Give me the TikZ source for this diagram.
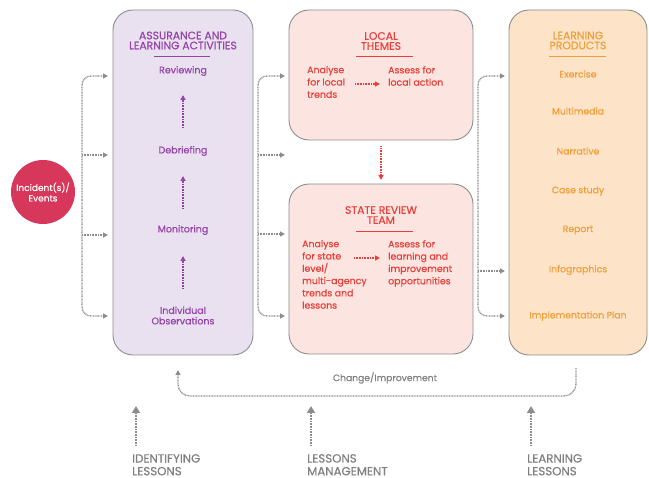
\documentclass[tikz,border=0pt]{standalone}
\usepackage{fontspec}
\setmainfont{Poppins}[FakeBold=0.5]
\usetikzlibrary{arrows.meta}
\definecolor{pbox}{HTML}{E9E0F0}
\definecolor{rbox}{HTML}{FCE5E1}
\definecolor{obox}{HTML}{FDE3C7}
\definecolor{ptext}{HTML}{9544A8}
\definecolor{rtext}{HTML}{E5403A}
\definecolor{otext}{HTML}{EE9F3A}
\definecolor{gline}{HTML}{8C8C8C}
\definecolor{gtext}{HTML}{808080}
\definecolor{incid}{HTML}{D6375A}
\tikzset{
  panel/.style={draw=gline, line width=0.9pt, rounded corners=20pt, minimum width=#1},
  conn/.style={draw=gline, line width=1.3pt, dash pattern=on 0.9pt off 0.7pt, -{Triangle[length=5pt,width=5pt]}},
  pconn/.style={draw=ptext, line width=1.3pt, dash pattern=on 0.9pt off 0.7pt, -{Triangle[length=5pt,width=5pt]}},
  rconn/.style={draw=rtext, line width=1.3pt, dash pattern=on 0.9pt off 0.7pt, -{Triangle[length=5pt,width=5pt]}},
  bigconn/.style={draw=gline, line width=2.6pt, dash pattern=on 0.9pt off 0.7pt, -{Triangle[length=7pt,width=8pt]}},
  ttl/.style={font=\fontsize{10.8}{10}\selectfont, align=center, inner sep=0pt},
  ptxt/.style={text=ptext, font=\fontsize{9.5}{10.5}\selectfont, align=center, inner sep=0pt},
  rtxt/.style={text=rtext, font=\fontsize{9.4}{12.3}\selectfont, align=left, inner sep=0pt},
  otxt/.style={text=otext, font=\fontsize{9.3}{10.5}\selectfont, align=center, inner sep=0pt},
  btxt/.style={text=gtext, font=\fontsize{11.8}{12.8}\selectfont, align=left, inner sep=0pt, anchor=north west},
}
\begin{document}
\begin{tikzpicture}[x=1pt, y=-1pt]
\useasboundingbox (0,0) rectangle (649,478);
% panels
\node[panel=140pt, minimum height=345pt, fill=pbox] (A) at (183,182.5) {};
\node[panel=184pt, minimum height=130pt, fill=rbox] (L) at (381,75) {};
\node[panel=184pt, minimum height=170pt, fill=rbox] (S) at (381,269) {};
\node[panel=138pt, minimum height=345pt, fill=obox] (P) at (578,182.5) {};
% incident
\node[circle, fill=incid, minimum size=64pt, text=white, align=center, inner sep=0pt,
      font=\fontsize{9}{10.5}\selectfont] (I) at (43,192) {Incident(s)/\\Events};
% assurance panel
\node[ttl, text=ptext] (At) at (183,40.5) {ASSURANCE AND\\LEARNING ACTIVITIES};
\draw[ptext, line width=0.8pt] (154,56) -- (210,56);
\node[ptxt] (A1) at (183,71) {Reviewing};
\node[ptxt] (A2) at (183,151) {Debriefing};
\node[ptxt] (A3) at (183,230) {Monitoring};
\node[ptxt] (A4) at (183,315.5) {Individual\\Observations};
\draw[pconn] (183,128) -- (183,95);
\draw[pconn] (183,209) -- (183,176);
\draw[pconn] (183,289) -- (183,256);
% local themes
\node[ttl, text=rtext] (Lt) at (381,41) {LOCAL\\THEMES};
\draw[rtext, line width=0.8pt] (356,56) -- (413,56);
\node[rtxt, anchor=north west] (L1) at (307,66) {Analyse\\for local\\trends};
\node[rtxt, anchor=north west] (L2) at (388,66) {Assess for\\local action};
\draw[rconn] (355,84) -- (380,84);
% state review
\node[ttl, text=rtext] (St) at (381,215) {STATE REVIEW\\TEAM};
\draw[rtext, line width=0.8pt] (356,231) -- (413,231);
\node[rtxt, anchor=north west] (S1) at (302,240) {Analyse\\for state\\level/\\multi-agency\\trends and\\lessons};
\node[rtxt, anchor=north west] (S2) at (388,240) {Assess for\\learning and\\improvement\\opportunities};
\draw[rconn] (354,258) -- (380,258);
\draw[rconn] (L.south) ++(0,6) -- (381,180);
% learning products
\node[ttl, text=otext] (Pt) at (578,40.5) {LEARNING\\PRODUCTS};
\draw[otext, line width=0.8pt] (549,56) -- (606,56);
\node[otxt] (P1) at (578,74) {Exercise};
\node[otxt] (P2) at (578,111) {Multimedia};
\node[otxt] (P3) at (578,151) {Narrative};
\node[otxt] (P4) at (578,191) {Case study};
\node[otxt] (P5) at (578,230) {Report};
\node[otxt] (P6) at (578,270) {Infographics};
\node[otxt] (P7) at (578,316) {Implementation Plan};
% left bracket
\draw[conn, rounded corners=9pt] (82,200) |- (108,76);
\draw[conn, rounded corners=9pt] (82,200) |- (108,316);
\draw[conn] (82,155) -- (108,155);
\draw[conn] (82,235) -- (108,235);
% middle bracket
\draw[conn, rounded corners=9pt] (258,200) |- (285,76);
\draw[conn, rounded corners=9pt] (258,200) |- (285,316);
\draw[conn] (258,155) -- (285,155);
\draw[conn] (258,234) -- (285,234);
% right bracket
\draw[conn, rounded corners=9pt] (478,200) |- (505,76);
\draw[conn, rounded corners=9pt] (478,200) |- (505,316);
\draw[conn] (478,271) -- (505,271);
% change loop
\node[text=gtext, font=\fontsize{9.2}{10}\selectfont, inner sep=0pt] (C) at (385,378) {Change/Improvement};
\draw[conn, rounded corners=12pt] (576,368) -- (576,396) -- (178,396) -- (178,370);
% bottom labels
\node[btxt] (B1) at (132,454) {IDENTIFYING\\LESSONS};
\node[btxt] (B2) at (307,454) {LESSONS\\MANAGEMENT};
\node[btxt] (B3) at (527,454) {LEARNING\\LESSONS};
\draw[bigconn] (136,446) -- (136,406);
\draw[bigconn] (311,446) -- (311,406);
\draw[bigconn] (531,446) -- (531,406);
\end{tikzpicture}
\end{document}
